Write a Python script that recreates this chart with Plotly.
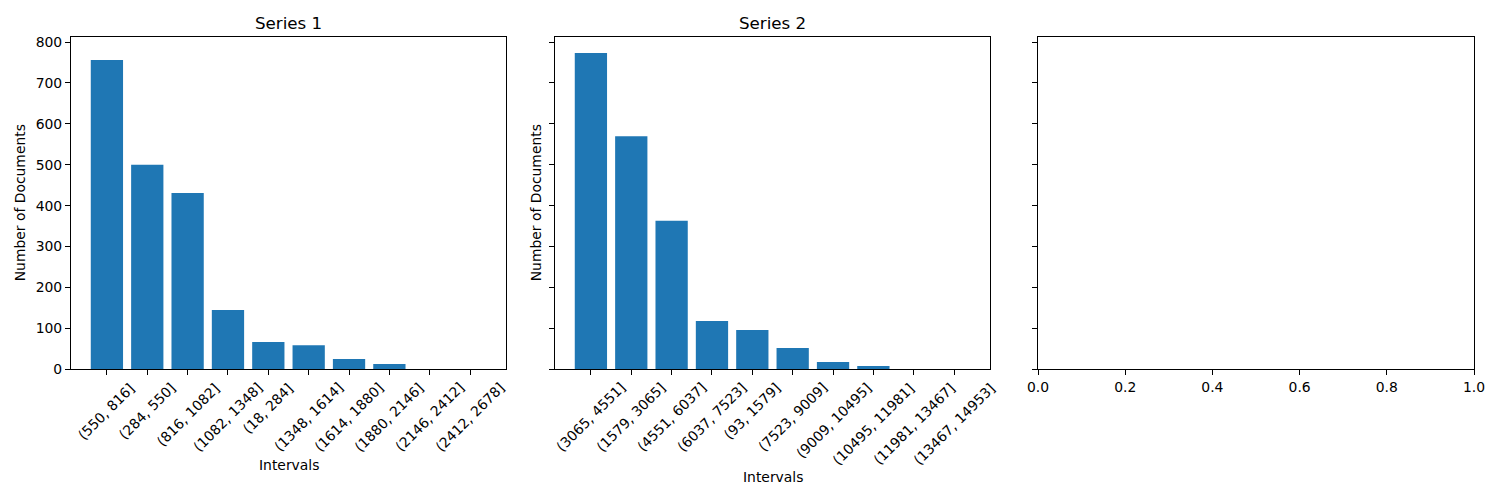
import plotly.graph_objects as go

# data
intervals_1 = ['(550, 816]', '(284, 550]', '(816, 1082]', '(1082, 1348]', '(18, 284]',
               '(1348, 1614]', '(1614, 1880]', '(1880, 2146]', '(2146, 2412]', '(2412, 2678]']
counts_1 = [756, 500, 431, 145, 67, 59, 25, 13, 0, 0]

intervals_2 = ['(3065, 4551]', '(1579, 3065]', '(4551, 6037]', '(6037, 7523]', '(93, 1579]',
               '(7523, 9009]', '(9009, 10495]', '(10495, 11981]', '(11981, 13467]', '(13467, 14953]']
counts_2 = [773, 570, 363, 118, 96, 52, 18, 8, 0, 0]

titles = ['Series 1', 'Series 2']
y_ticks = [0, 100, 200, 300, 400, 500, 600, 700, 800]
x3_ticks = [0.0, 0.2, 0.4, 0.6, 0.8, 1.0]

FONT = 'DejaVu Sans'
BLUE = '#1f77b4'
W, H = 1500, 500
OFF = 8  # page body margin in the browser

# axes boxes in pixels (left, right), shared top/bottom
boxes = [(71, 506), (555, 990), (1038, 1474)]
top_px, bot_px = 37.3, 369.3
ymax = max(max(counts_1), max(counts_2)) * 1.05


def px(x):
    return (x - OFF) / W


def py(y):
    return 1 - (y - OFF) / H


fig = go.Figure()
fig.add_trace(go.Bar(x=intervals_1, y=counts_1, marker_color=BLUE, marker_line_width=0,
                     xaxis='x', yaxis='y'))
fig.add_trace(go.Bar(x=intervals_2, y=counts_2, marker_color=BLUE, marker_line_width=0,
                     xaxis='x2', yaxis='y2'))
# empty third axes
fig.add_trace(go.Scatter(x=[], y=[], xaxis='x3', yaxis='y3'))

common = dict(showline=True, mirror=True, linecolor='black', linewidth=1.1,
              ticks='outside', ticklen=5, tickwidth=1.1, tickcolor='black',
              showgrid=False, zeroline=False, automargin=False,
              tickfont=dict(family=FONT, size=13.9, color='black'))

layout = dict(width=W, height=H, margin=dict(l=0, r=0, t=0, b=0),
              plot_bgcolor='white', paper_bgcolor='white', showlegend=False,
              bargap=0.2, font=dict(family=FONT, color='black'))

for i, (l, r) in enumerate(boxes):
    sfx = '' if i == 0 else str(i + 1)
    xa = dict(common, domain=[px(l), px(r)], anchor='y' + sfx)
    ya = dict(common, domain=[py(bot_px), py(top_px)], anchor='x' + sfx,
              range=[0, ymax], tickmode='array', tickvals=y_ticks,
              showticklabels=(i == 0))
    if i < 2:
        xa.update(type='category', range=[-0.89, 9.89], showticklabels=False)
    else:
        xa.update(range=[0, 1], tickmode='array', tickvals=x3_ticks,
                  ticktext=['%.1f' % v for v in x3_ticks])
    layout['xaxis' + sfx] = xa
    layout['yaxis' + sfx] = ya

fig.update_layout(**layout)

annos = []
tick_font = dict(family=FONT, size=13.9, color='black')
label_font = dict(family=FONT, size=13.9, color='black')
for i, (cats, title) in enumerate(zip([intervals_1, intervals_2], titles)):
    sfx = '' if i == 0 else str(i + 1)
    l, r = boxes[i]
    # rotated category labels, centred under each tick
    for c in cats:
        annos.append(dict(x=c, y=py(380), xref='x' + sfx, yref='paper', text=c,
                          textangle=-45, showarrow=False, xanchor='center', yanchor='top',
                          font=tick_font, borderpad=0, borderwidth=0))
    # title
    annos.append(dict(x=px((l + r) / 2), y=py(23), xref='paper', yref='paper', text=title,
                      showarrow=False, xanchor='center', yanchor='middle',
                      font=dict(family=FONT, size=16.7, color='black'), borderpad=0))
    # y label
    annos.append(dict(x=px(20 if i == 0 else 536), y=py((top_px + bot_px) / 2), xref='paper',
                      yref='paper', text='Number of Documents', textangle=-90, showarrow=False,
                      xanchor='center', yanchor='middle', font=label_font, borderpad=0))
# x labels
annos.append(dict(x=px(288.5), y=py(465), xref='paper', yref='paper', text='Intervals',
                  showarrow=False, xanchor='center', yanchor='middle', font=label_font))
annos.append(dict(x=px(772.5), y=py(477), xref='paper', yref='paper', text='Intervals',
                  showarrow=False, xanchor='center', yanchor='middle', font=label_font))

fig.update_layout(annotations=annos)
fig.write_html("out.html")
